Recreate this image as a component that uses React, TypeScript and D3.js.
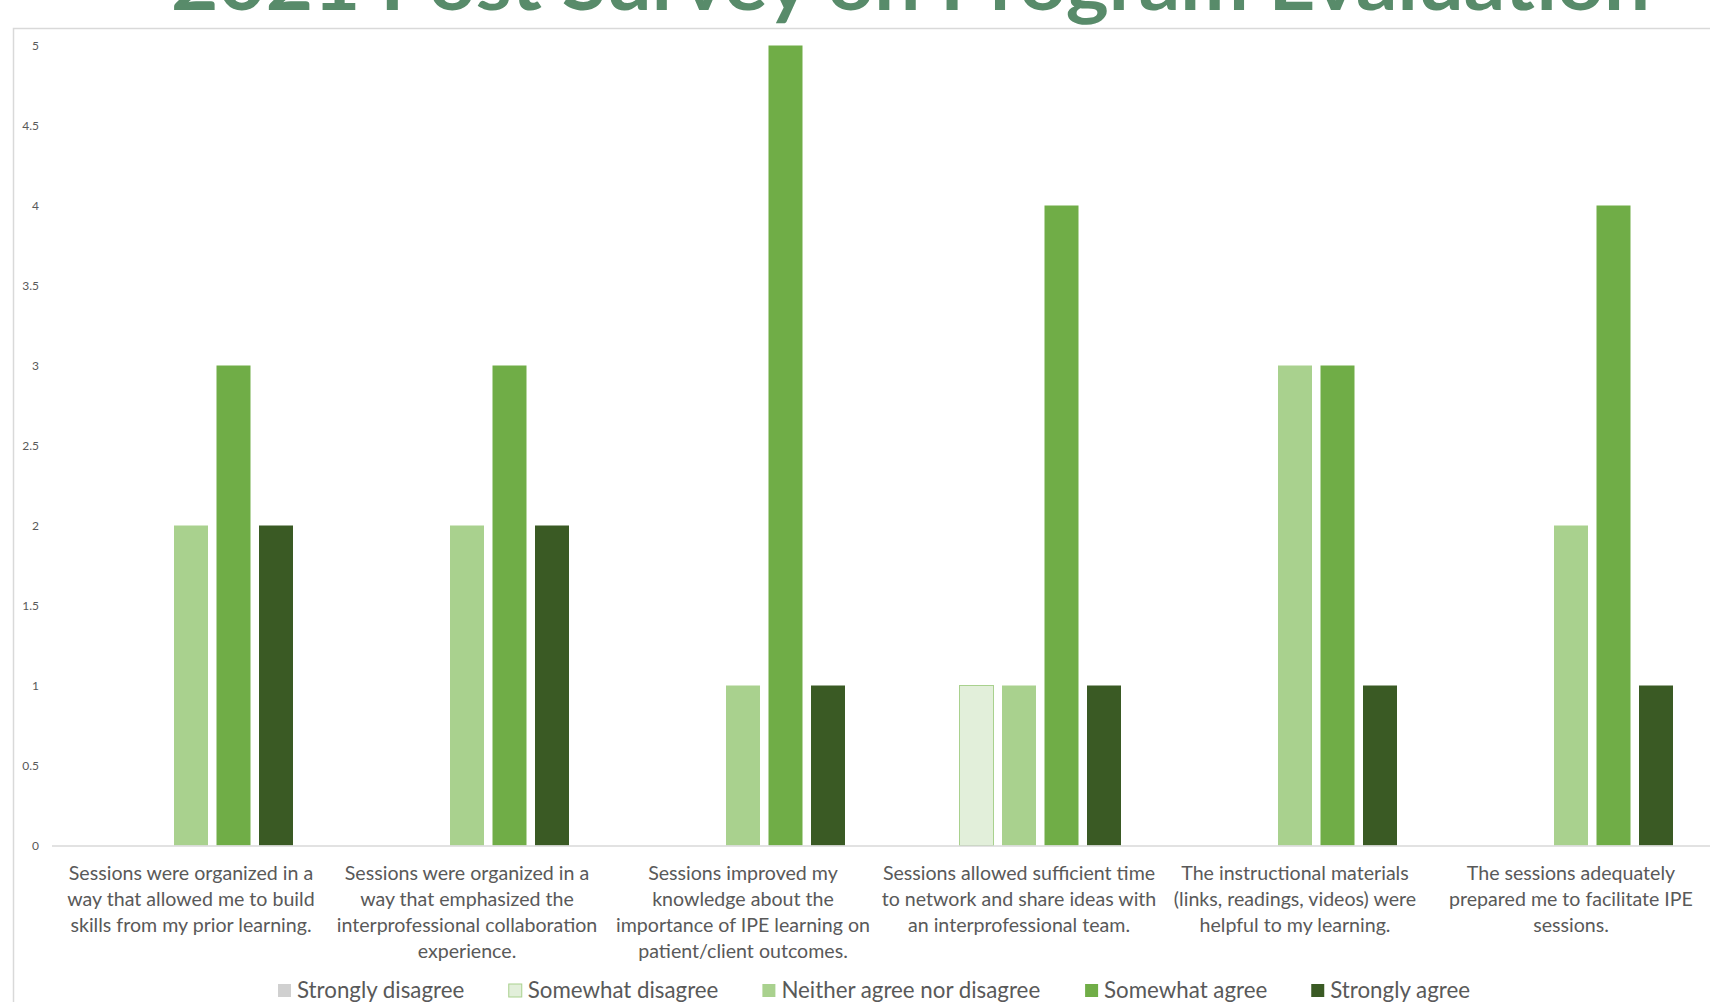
import React from "react";
import * as d3 from "d3";

const TITLE = "2021 Post Survey on Program Evaluation";

const categories: string[][] = [
  ["Sessions were organized in a", "way that allowed me to build", "skills from my prior learning."],
  ["Sessions were organized in a", "way that emphasized the", "interprofessional collaboration", "experience."],
  ["Sessions improved my", "knowledge about the", "importance of IPE learning on", "patient/client outcomes."],
  ["Sessions allowed sufficient time", "to network and share ideas with", "an interprofessional team."],
  ["The instructional materials", "(links, readings, videos) were", "helpful to my learning."],
  ["The sessions adequately", "prepared me to facilitate IPE", "sessions."],
];

const seriesNames = [
  "Strongly disagree",
  "Somewhat disagree",
  "Neither agree nor disagree",
  "Somewhat agree",
  "Strongly agree",
];

const stronglyDisagree = [0, 0, 0, 0, 0, 0];
const somewhatDisagree = [0, 0, 0, 1, 0, 0];
const neitherAgree = [2, 2, 1, 1, 3, 2];
const somewhatAgree = [3, 3, 5, 4, 3, 4];
const stronglyAgree = [2, 2, 1, 1, 1, 1];

const seriesValues = [stronglyDisagree, somewhatDisagree, neitherAgree, somewhatAgree, stronglyAgree];

const yTicks = [0, 0.5, 1, 1.5, 2, 2.5, 3, 3.5, 4, 4.5, 5];

const fills = ["#d0d0d0", "#e2efda", "#a9d18e", "#70ad47", "#3a5a24"];
const strokes = ["none", "#a9d18e", "none", "none", "none"];

const W = 1710;
const H = 1002;
const FONT = "Lato, 'Open Sans', sans-serif";

function measure(text: string, font: string): number {
  const c = document.createElement("canvas");
  const ctx = c.getContext("2d")!;
  ctx.font = font;
  return ctx.measureText(text).width;
}

export default function App() {
  const catIdx = categories.map((_, i) => String(i));
  const x0 = d3.scaleBand<string>().domain(catIdx).range([53, 1709]).paddingInner(0).paddingOuter(0);
  const x1 = d3
    .scaleBand<string>()
    .domain(seriesNames)
    .range([0, x0.bandwidth()])
    .paddingInner(0.2)
    .paddingOuter(0.847);
  const y = d3.scaleLinear().domain([0, 5]).range([845.5, 45.5]);

  const legendFontSize = 22.3;
  const legendFont = `${legendFontSize}px Lato`;
  const sq = 13;
  const legendItems: { name: string; x: number; color: string; stroke: string }[] = [];
  let lx = 278;
  seriesNames.forEach((n, i) => {
    legendItems.push({ name: n, x: lx, color: fills[i], stroke: strokes[i] });
    lx += sq + 6 + measure(n, legendFont) + 44;
  });

  return (
    <svg
      width={W}
      height={H}
      style={{ position: "absolute", left: 0, top: 0, background: "#fff" }}
      fontFamily={FONT}
    >
      <rect x={0} y={0} width={W} height={H} fill="#fff" />
      {/* title */}
      <text
        x={171}
        y={10}
        fill="#588b6a"
        fontSize={76}
        fontWeight={700}
        fontFamily="Lato, sans-serif"
        textLength={1479}
        lengthAdjust="spacingAndGlyphs"
      >
        {TITLE}
      </text>
      {/* chart frame */}
      <rect x={13.5} y={28.5} width={W + 10} height={H + 10} fill="none" stroke="#d9d9d9" strokeWidth={1.5} />

      {/* y axis labels */}
      {yTicks.map((t) => (
        <text key={t} x={39} y={y(t) + 4} textAnchor="end" fontSize={12} fill="#595959">
          {String(t)}
        </text>
      ))}

      {/* bars */}
      {categories.map((_, ci) =>
        seriesNames.map((s, si) => {
          const v = seriesValues[si][ci];
          if (v <= 0) return null;
          const bx = (x0(String(ci)) as number) + (x1(s) as number);
          return (
            <rect
              key={`${ci}-${si}`}
              x={bx}
              y={y(v)}
              width={x1.bandwidth()}
              height={y(0) - y(v)}
              fill={fills[si]}
              stroke={strokes[si]}
              strokeWidth={strokes[si] === "none" ? 0 : 1}
            />
          );
        })
      )}

      {/* baseline */}
      <line x1={52} x2={W} y1={y(0) + 0.5} y2={y(0) + 0.5} stroke="#d9d9d9" strokeWidth={1.5} />

      {/* category labels */}
      {categories.map((lines, ci) => {
        const cx = (x0(String(ci)) as number) + x0.bandwidth() / 2;
        return (
          <text key={ci} textAnchor="middle" fontSize={19.6} fill="#595959">
            {lines.map((l, li) => (
              <tspan key={li} x={cx} y={880 + li * 26}>
                {l}
              </tspan>
            ))}
          </text>
        );
      })}

      {/* legend */}
      {legendItems.map((it) => (
        <g key={it.name}>
          <rect
            x={it.x}
            y={984}
            width={sq}
            height={sq}
            fill={it.color}
            stroke={it.stroke}
            strokeWidth={it.stroke === "none" ? 0 : 1}
          />
          <text x={it.x + sq + 6} y={998} fontSize={legendFontSize} fill="#595959" fontFamily="Lato">
            {it.name}
          </text>
        </g>
      ))}
    </svg>
  );
}
